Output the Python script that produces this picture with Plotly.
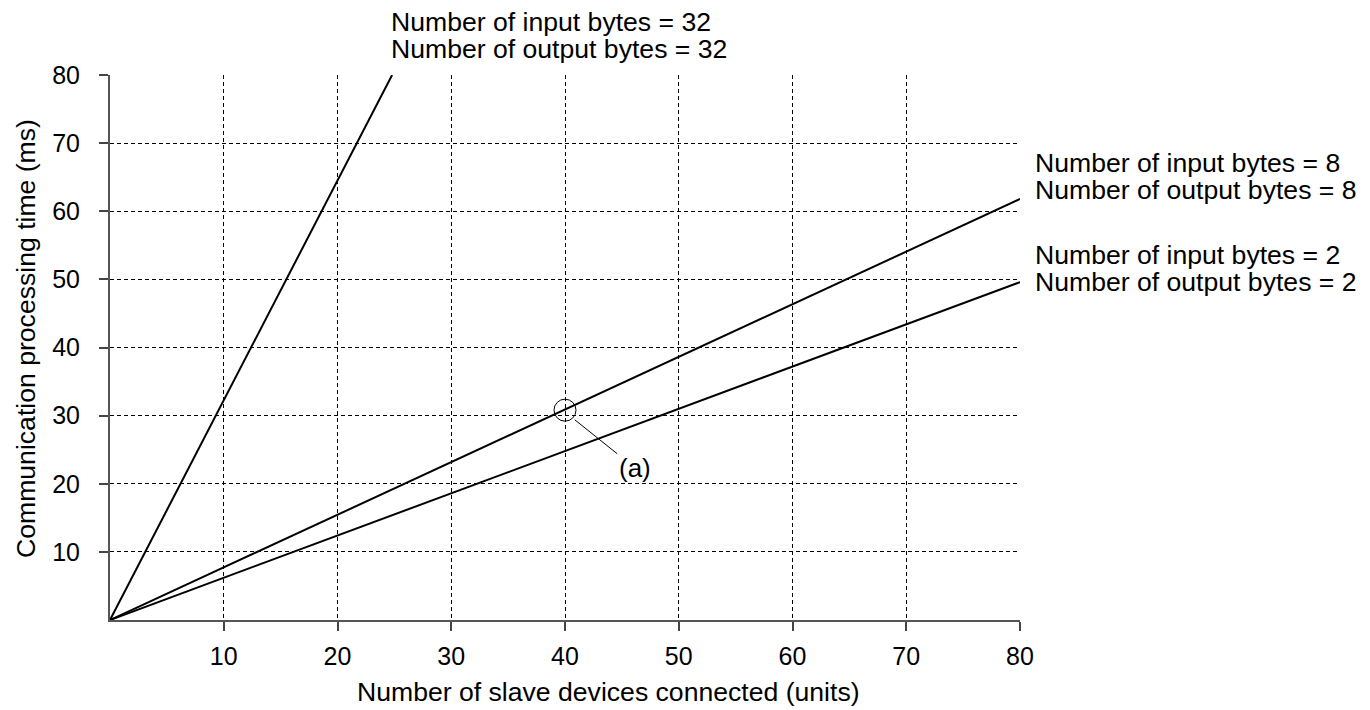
import plotly.graph_objects as go

# slave count vs communication processing time (ms)
x_32 = [0, 24.8]
y_32 = [0, 80]
x_8 = [0, 80]
y_8 = [0, 61.8]
x_2 = [0, 80]
y_2 = [0, 49.6]

tick_vals = [10, 20, 30, 40, 50, 60, 70, 80]
point_a = (40, 30.8)

FONT = "Liberation Sans, Arial, sans-serif"
OFF = 8  # page body margin
W, H = 1370 - OFF, 710 - OFF
ml, mt = 110 - OFF, 75 - OFF
mr = W - (1020 - OFF)
mb = H - (620 - OFF)
pw, ph = W - ml - mr, H - mt - mb


def px(x, y):
    # window pixel position -> paper coords
    return (x - OFF - ml) / pw, (H - mb - (y - OFF)) / ph


fig = go.Figure()
for xs, ys in [(x_32, y_32), (x_8, y_8), (x_2, y_2)]:
    fig.add_trace(go.Scatter(x=xs, y=ys, mode="lines",
                             line=dict(color="black", width=2),
                             showlegend=False, hoverinfo="skip"))

# circle marking point (a)
fig.add_shape(type="circle", xref="x", yref="y",
              xsizemode="pixel", ysizemode="pixel",
              xanchor=point_a[0], yanchor=point_a[1],
              x0=-11, x1=11, y0=-11, y1=11,
              line=dict(color="black", width=1))

fig.add_annotation(x=40.85, y=29.4, xref="x", yref="y",
                   text="(a)", showarrow=True, arrowhead=0, arrowwidth=1,
                   arrowcolor="black", ax=60, ay=48,
                   font=dict(size=26, color="black", family=FONT))

label_font = dict(size=26.6, color="black", family=FONT)
labels = [
    ("Number of input bytes = 32", 389, 22),
    ("Number of output bytes = 32", 389, 49),
    ("Number of input bytes = 8", 1033, 163),
    ("Number of output bytes = 8", 1033, 190),
    ("Number of input bytes = 2", 1033, 255),
    ("Number of output bytes = 2", 1033, 282),
]
for txt, lx, ly in labels:
    xp, yp = px(lx, ly)
    fig.add_annotation(x=xp, y=yp, xref="paper", yref="paper", text=txt,
                       showarrow=False, xanchor="left", yanchor="middle",
                       font=label_font)

# axis titles
xp, yp = px(608, 692)
fig.add_annotation(x=xp, y=yp, xref="paper", yref="paper",
                   text="Number of slave devices connected (units)",
                   showarrow=False, xanchor="center", yanchor="middle", font=label_font)
xp, yp = px(26, 339)
fig.add_annotation(x=xp, y=yp, xref="paper", yref="paper",
                   text="Communication processing time (ms)", textangle=-90,
                   showarrow=False, xanchor="center", yanchor="middle", font=label_font)

axis_common = dict(
    range=[0, 80], tickvals=tick_vals, showgrid=True, gridcolor="black", gridwidth=1,
    griddash="4px,3px", zeroline=False, showline=True, linecolor="#555555",
    linewidth=2, ticks="outside", ticklen=9, tickcolor="#444444", tickwidth=2,
    tickfont=dict(size=25, color="black", family=FONT),
)
# inner half of the ticks
inner = dict(range=[0, 80], tickvals=tick_vals, showgrid=False, zeroline=False,
             showline=False, ticks="inside", ticklen=12, tickcolor="#444444",
             tickwidth=2, showticklabels=False)

fig.update_layout(
    width=W, height=H,
    margin=dict(l=ml, r=mr, t=mt, b=mb),
    plot_bgcolor="white", paper_bgcolor="white",
    font=dict(family=FONT, size=26, color="black"),
    xaxis=dict(ticklabelstandoff=4, **axis_common),
    yaxis=dict(ticklabelstandoff=14, **axis_common),
    xaxis2=dict(overlaying="x", anchor="y", side="bottom", **inner),
    yaxis2=dict(overlaying="y", anchor="x", side="left", **inner),
)

fig.write_html("out.html")
